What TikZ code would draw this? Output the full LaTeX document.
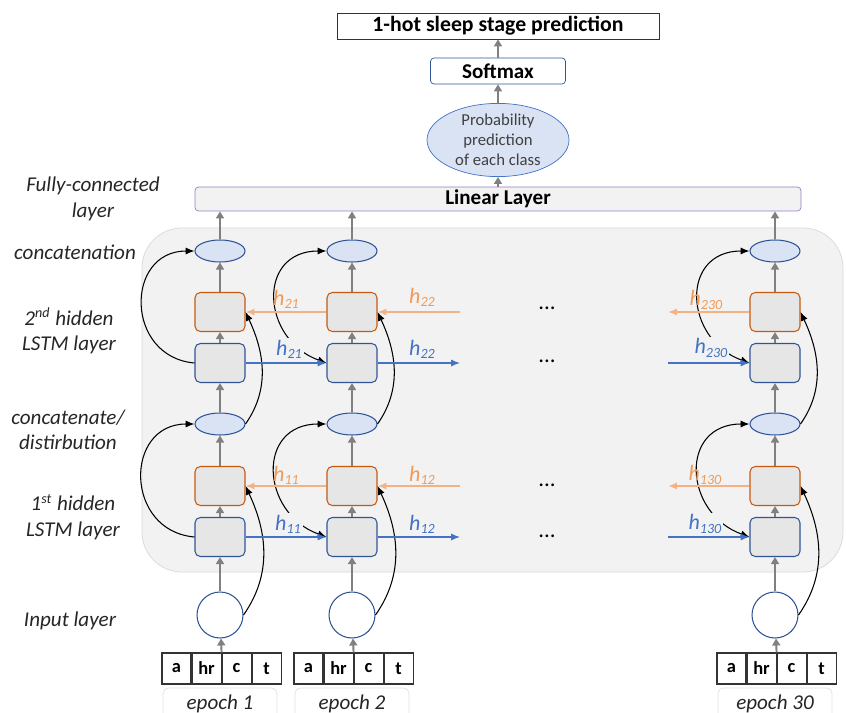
\documentclass[tikz,border=0pt]{standalone}
\usepackage{fontspec}
\setmainfont{Carlito}
\usetikzlibrary{arrows.meta,shapes.geometric,positioning}
\definecolor{LSBlue}{HTML}{2F5597}
\definecolor{LSBlueLine}{HTML}{4472C4}
\definecolor{LSBlueFill}{HTML}{DAE3F3}
\definecolor{LSOrange}{HTML}{C55A11}
\definecolor{LSOrangeLine}{HTML}{F4B183}
\definecolor{LSOrangeText}{HTML}{F19A56}
\definecolor{LSCell}{HTML}{E7E6E6}
\definecolor{LSPanel}{HTML}{F2F2F2}
\definecolor{LSPanelLine}{HTML}{D9D9D9}
\definecolor{LSGray}{HTML}{808080}
\definecolor{LSPurple}{HTML}{9A7BC4}
\newcommand{\hid}[1]{h\raisebox{-0.3ex}{\fontsize{8}{8}\selectfont #1}}

\begin{document}
\begin{tikzpicture}[
    x=0.02cm, y=-0.02cm,
    lstmf/.style={draw=LSBlue, fill=LSCell, rounded corners=3pt, minimum width=1cm, minimum height=0.78cm, inner sep=0pt, line width=0.6pt},
    lstmb/.style={lstmf, draw=LSOrange},
    concat/.style={ellipse, draw=LSBlue, fill=LSBlueFill, minimum width=1cm, minimum height=0.44cm, inner sep=0pt, line width=0.6pt},
    inp/.style={circle, draw=LSBlue, fill=white, minimum size=0.92cm, inner sep=0pt, line width=0.6pt},
    cell/.style={draw=black!80, minimum width=0.58cm, minimum height=0.62cm, inner sep=0pt, line width=0.6pt, font=\fontsize{10.5}{11}\selectfont\bfseries},
    epochbox/.style={draw=black!12, fill=white, rounded corners=3pt, minimum width=2.28cm, minimum height=0.64cm, inner sep=0pt, font=\fontsize{12}{14}\selectfont\itshape, text=black!85},
    flow/.style={-{Triangle[length=4pt,width=4.5pt]}, LSGray, line width=1.1pt},
    skip/.style={-{Latex[length=5pt,width=4pt]}, black, line width=0.6pt},
    fwd/.style={-{Latex[length=5pt,width=4pt]}, LSBlueLine, line width=0.7pt},
    bwd/.style={-{Latex[length=5pt,width=4pt]}, LSOrangeLine, line width=1.2pt},
    hf/.style={text=LSBlueLine, fill=LSPanel, inner sep=1pt, font=\fontsize{12.5}{13}\selectfont\itshape},
    hb/.style={text=LSOrangeText, inner sep=1pt, font=\fontsize{12.5}{13}\selectfont\itshape},
    dots/.style={font=\fontsize{13}{14}\selectfont},
    side/.style={align=center, font=\fontsize{12}{14.5}\selectfont\itshape, text=black!85},
    head/.style={inner sep=0pt, font=\fontsize{12}{14}\selectfont\bfseries}
 ]
\useasboundingbox (0,0) rectangle (846,713);

% panel behind the two LSTM layers
\draw[LSPanelLine, fill=LSPanel, rounded corners=0.8cm] (142,228) rectangle (843,572);

% output stack
\node[head, draw=black!80, minimum width=6.44cm, minimum height=0.52cm, font=\fontsize{12.4}{14}\selectfont\bfseries] (onehot) at (498,26) {1-hot sleep stage prediction};
\node[head, draw=LSBlue, rounded corners=2pt, minimum width=2.7cm, minimum height=0.52cm] (soft) at (498,71) {Softmax};
\node[ellipse, draw=LSBlueLine, fill=LSBlueFill, minimum width=2.84cm, minimum height=1.38cm, inner sep=0pt, align=center,
      font=\fontsize{9.5}{11.4}\selectfont, text=black!75] (prob) at (498,140) {Probability\\prediction\\of each class};
\node[head, draw=LSPurple, fill=LSPanel, rounded corners=2pt, minimum width=12.12cm, minimum height=0.48cm] (lin) at (498,199) {Linear Layer};

\draw[flow] (lin) -- (prob);
\draw[flow] (prob) -- (soft);
\draw[flow] (soft) -- (onehot);

\foreach \c/\x in {1/220, 2/352, 30/775} {
    \node[inp]    (in-\c) at (\x,615) {};
    \node[lstmf]  (b1-\c) at (\x,537) {};
    \node[lstmb]  (o1-\c) at (\x,486) {};
    \node[concat] (m-\c)  at (\x,424) {};
    \node[lstmf]  (b2-\c) at (\x,363) {};
    \node[lstmb]  (o2-\c) at (\x,312) {};
    \node[concat] (t-\c)  at (\x,251) {};

    \node[cell] (a-\c) at (\x-43.5,668.5) {a};
    \node[cell, right=0pt of a-\c]  (hr-\c) {hr};
    \node[cell, right=0pt of hr-\c] (c-\c)  {c};
    \node[cell, right=0pt of c-\c]  (tt-\c) {t};
    \node[epochbox] (ep-\c) at (\x,704) {epoch \c};

    \draw[flow] (hr-\c.north east) -- (in-\c);
    \draw[flow] (in-\c) -- (b1-\c);
    \draw[flow] (b1-\c) -- (o1-\c);
    \draw[flow] (o1-\c) -- (m-\c);
    \draw[flow] (m-\c) -- (b2-\c);
    \draw[flow] (b2-\c) -- (o2-\c);
    \draw[flow] (o2-\c) -- (t-\c);
    \draw[flow] (t-\c) -- (t-\c |- lin.south);

    \draw[skip] (in-\c.east) to[out=55,in=-65] (o1-\c.east);
    \draw[skip] (m-\c.east) to[out=55,in=-65] (o2-\c.east);
}

% skip arcs on the left side of each column
\draw[skip] (b2-1.west) to[out=175,in=180,looseness=1.6] (t-1.west);
\draw[skip] (b1-1.west) to[out=175,in=180,looseness=1.6] (m-1.west);
\foreach \c in {2,30} {
    \draw[skip, {Latex[length=5pt,width=4pt]}-{Latex[length=5pt,width=4pt]}] (b2-\c.west) to[out=160,in=180,looseness=1.6] (t-\c.west);
    \draw[skip, {Latex[length=5pt,width=4pt]}-{Latex[length=5pt,width=4pt]}] (b1-\c.west) to[out=160,in=180,looseness=1.6] (m-\c.west);
}

% loose ends of the recurrent connections
\coordinate (f2-out) at (460,363);
\coordinate (f1-out) at (460,537);
\coordinate (r2-in)  at (460,312);
\coordinate (r1-in)  at (460,486);
\coordinate (f2-in)  at (668,363);
\coordinate (f1-in)  at (668,537);
\coordinate (r2-out) at (668,312);
\coordinate (r1-out) at (668,486);

% hidden state labels (the blue ones break the black arcs)
\node[hf] (lf21)  at (289,349) {\hid{21}};
\node[hf] (lf22)  at (422,349) {\hid{22}};
\node[hf] (lf230) at (711,348) {\hid{230}};
\node[hf] (lf11)  at (288,524) {\hid{11}};
\node[hf] (lf12)  at (422,524) {\hid{12}};
\node[hf] (lf130) at (705,524) {\hid{130}};
\node[hb] (lb21)  at (286,299) {\hid{21}};
\node[hb] (lb22)  at (422,297) {\hid{22}};
\node[hb] (lb230) at (706,300) {\hid{230}};
\node[hb] (lb11)  at (286,475) {\hid{11}};
\node[hb] (lb12)  at (422,475) {\hid{12}};
\node[hb] (lb130) at (705,475) {\hid{130}};

\draw[fwd] (b2-1.east) -- (b2-2.west);
\draw[fwd] (b2-2.east) -- (f2-out);
\draw[fwd] (f2-in) -- (b2-30.west);
\draw[fwd] (b1-1.east) -- (b1-2.west);
\draw[fwd] (b1-2.east) -- (f1-out);
\draw[fwd] (f1-in) -- (b1-30.west);

\draw[bwd] (r2-in) -- (o2-2.east);
\draw[bwd] (o2-2.west) -- (o2-1.east);
\draw[bwd] (o2-30.west) -- (r2-out);
\draw[bwd] (r1-in) -- (o1-2.east);
\draw[bwd] (o1-2.west) -- (o1-1.east);
\draw[bwd] (o1-30.west) -- (r1-out);

\node[dots] (d1) at (547,308) {...};
\node[dots] (d2) at (547,361) {...};
\node[dots] (d3) at (547,485) {...};
\node[dots] (d4) at (547,536) {...};

% layer names
\node[side] (nfc)  at (93,199)  {Fully-connected\\layer};
\node[side] (ncat) at (75,252)  {concatenation};
\node[side] (nl2)  at (69,331)  {2\textsuperscript{nd} hidden\\LSTM layer};
\node[side] (ndis) at (68,430)  {concatenate/\\distirbution};
\node[side] (nl1)  at (73,517)  {1\textsuperscript{st} hidden\\LSTM layer};
\node[side] (nin)  at (70,621)  {Input layer};

\end{tikzpicture}
\end{document}
